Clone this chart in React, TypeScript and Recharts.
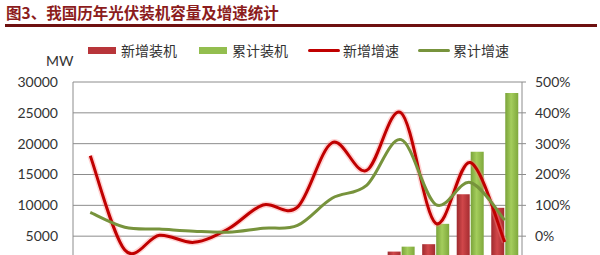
import { ComposedChart, Bar, Line, XAxis, YAxis, CartesianGrid } from 'recharts';

const years = ['2002', '2003', '2004', '2005', '2006', '2007', '2008', '2009', '2010', '2011', '2012', '2013', '2014'];
// MW
const newInstalled = [20, 10, 10, 5, 10, 20, 40, 160, 500, 2500, 3700, 11800, 9600];
const cumulative = [45, 55, 65, 70, 80, 100, 140, 300, 800, 3300, 7000, 18700, 28200];
// %
const newGrowth = [261, -45, 3, -20, 24, 101, 94, 303, 213, 400, 42, 239, -19];
const cumGrowth = [77, 29, 23, 16, 13, 26, 35, 123, 165, 313, 103, 174, 52];

const leftTicks = [5000, 10000, 15000, 20000, 25000, 30000];
const rightTicks = [0, 100, 200, 300, 400, 500];

const data = years.map((year, i) => ({
  year,
  newInstalled: newInstalled[i],
  cumulative: cumulative[i],
  newGrowth: newGrowth[i],
  cumGrowth: cumGrowth[i],
}));

const FONT = 'Lato, "Noto Sans", sans-serif';
const CJK = '"Noto Sans CJK SC", sans-serif';

// Catmull-Rom smoothing, like office "smoothed line" charts
function smooth(context: any) {
  let pts: number[][] = [];
  return {
    areaStart() {},
    areaEnd() {},
    lineStart() {
      pts = [];
    },
    point(x: number, y: number) {
      pts.push([+x, +y]);
    },
    lineEnd() {
      if (!pts.length) return;
      context.moveTo(pts[0][0], pts[0][1]);
      for (let i = 0; i < pts.length - 1; i++) {
        const p0 = pts[i - 1] || pts[i];
        const p1 = pts[i];
        const p2 = pts[i + 1];
        const p3 = pts[i + 2] || p2;
        context.bezierCurveTo(
          p1[0] + (p2[0] - p0[0]) / 6,
          p1[1] + (p2[1] - p0[1]) / 6,
          p2[0] - (p3[0] - p1[0]) / 6,
          p2[1] - (p3[1] - p1[1]) / 6,
          p2[0],
          p2[1]
        );
      }
    },
  };
}

const legendItems = [
  { label: '新增装机', kind: 'bar', color: '#B8353A', x: 88 },
  { label: '累计装机', kind: 'bar', color: '#93BE4F', x: 199 },
  { label: '新增增速', kind: 'line', color: '#C00000', x: 308 },
  { label: '累计增速', kind: 'line', color: '#77933C', x: 418 },
];

export default function App() {
  return (
    <div
      style={{
        position: 'absolute',
        left: 0,
        top: 0,
        width: 600,
        height: 255,
        overflow: 'hidden',
        background: '#fff',
      }}
    >
      <div
        style={{
          position: 'absolute',
          left: 6,
          top: 3,
          fontFamily: CJK,
          fontSize: 15.5,
          fontWeight: 700,
          color: '#8C1C1C',
          lineHeight: '18px',
          whiteSpace: 'nowrap',
        }}
      >
        图3、我国历年光伏装机容量及增速统计
      </div>
      <div style={{ position: 'absolute', left: 5, top: 24, width: 592, height: 3, background: '#6E1010' }} />

      <div
        style={{
          position: 'absolute',
          left: 46,
          top: 52,
          fontFamily: FONT,
          fontSize: 14,
          color: '#333',
          lineHeight: '18px',
        }}
      >
        MW
      </div>

      {legendItems.map((it) => (
        <div key={it.label} style={{ position: 'absolute', left: it.x, top: 40, height: 20, whiteSpace: 'nowrap' }}>
          {it.kind === 'bar' ? (
            <span
              style={{
                position: 'absolute',
                left: 0,
                top: 7,
                width: 28,
                height: 7,
                background: it.color,
              }}
            />
          ) : (
            <span
              style={{
                position: 'absolute',
                left: 0,
                top: 9,
                width: 32,
                height: 3,
                borderRadius: 2,
                background: it.color,
              }}
            />
          )}
          <span
            style={{
              position: 'absolute',
              left: it.kind === 'bar' ? 33 : 35,
              top: 0,
              fontFamily: CJK,
              fontSize: 14,
              color: '#333',
              lineHeight: '20px',
            }}
          >
            {it.label}
          </span>
        </div>
      ))}

      <div style={{ position: 'absolute', left: 0, top: 0 }}>
        <ComposedChart
          width={600}
          height={280}
          data={data}
          margin={{ top: 82, right: 0, bottom: 13, left: 0 }}
          barCategoryGap="11%"
          barGap={1}
        >
          <defs>
            <linearGradient id="redBar" x1="0" y1="0" x2="1" y2="0">
              <stop offset="0%" stopColor="#9E2A2E" />
              <stop offset="45%" stopColor="#D0474A" />
              <stop offset="100%" stopColor="#A52C30" />
            </linearGradient>
            <linearGradient id="greenBar" x1="0" y1="0" x2="1" y2="0">
              <stop offset="0%" stopColor="#7AA33A" />
              <stop offset="45%" stopColor="#A4CD5C" />
              <stop offset="100%" stopColor="#7FA83C" />
            </linearGradient>
          </defs>
          <CartesianGrid yAxisId="l" horizontal vertical={false} stroke="#8C8C8C" />
          <XAxis dataKey="year" hide />
          <YAxis
            yAxisId="l"
            orientation="left"
            width={73}
            domain={[0, 30000]}
            ticks={leftTicks}
            interval={0}
            axisLine={{ stroke: '#8C8C8C' }}
            tickLine={false}
            tickSize={6}
            tickMargin={9}
            tick={{ fontFamily: FONT, fontSize: 14, fill: '#333' }}
          />
          <YAxis
            yAxisId="r"
            orientation="right"
            width={78}
            domain={[-100, 500]}
            ticks={rightTicks}
            interval={0}
            tickFormatter={(v: number) => `${v}%`}
            axisLine={{ stroke: '#8C8C8C' }}
            tickLine={{ stroke: '#8C8C8C' }}
            tickSize={4}
            tickMargin={9}
            tick={{ fontFamily: FONT, fontSize: 14, fill: '#333', textAnchor: 'start' }}
          />
          <Bar yAxisId="l" dataKey="newInstalled" fill="url(#redBar)" isAnimationActive={false} />
          <Bar yAxisId="l" dataKey="cumulative" fill="url(#greenBar)" isAnimationActive={false} />
          {/* soft glow under the red growth line */}
          <Line
            yAxisId="r"
            dataKey="newGrowth"
            type={smooth as any}
            stroke="#FF8080"
            strokeOpacity={0.35}
            strokeWidth={6}
            dot={false}
            activeDot={false}
            isAnimationActive={false}
          />
          <Line
            yAxisId="r"
            dataKey="newGrowth"
            type={smooth as any}
            stroke="#C00000"
            strokeWidth={3}
            dot={false}
            activeDot={false}
            isAnimationActive={false}
          />
          <Line
            yAxisId="r"
            dataKey="cumGrowth"
            type={smooth as any}
            stroke="#77933C"
            strokeWidth={3}
            dot={false}
            activeDot={false}
            isAnimationActive={false}
          />
        </ComposedChart>
      </div>
    </div>
  );
}
